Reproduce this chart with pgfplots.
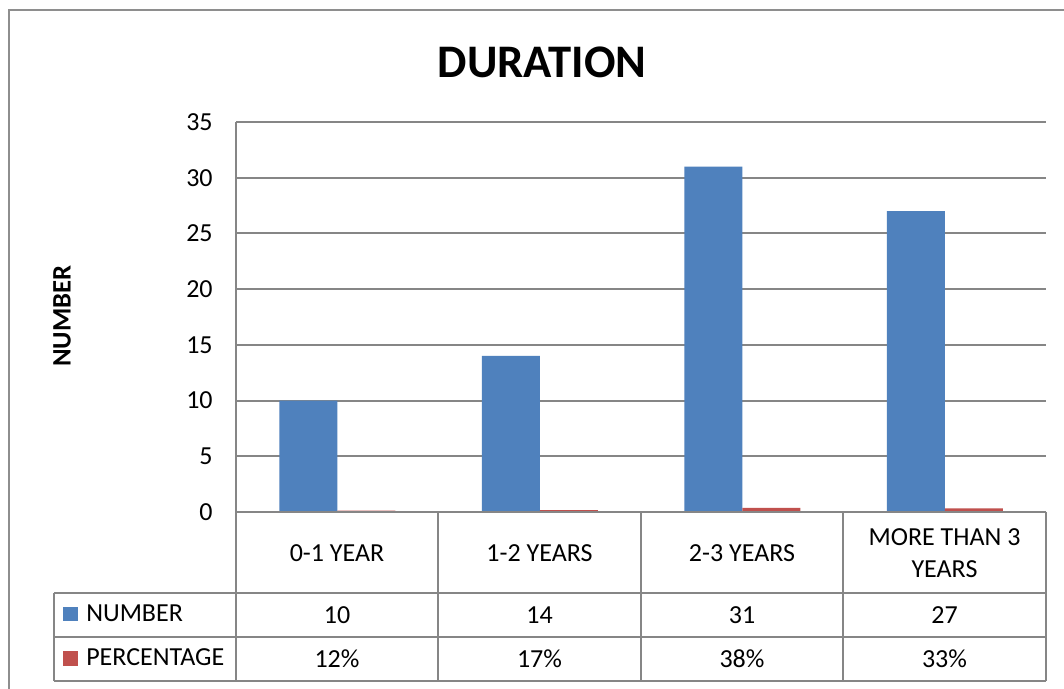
\documentclass[border=0pt]{standalone}
\usepackage{pgfplots}
\usepackage{pgfplotstable}
\pgfplotsset{compat=1.18}
\usepackage{fontspec}
\setmainfont{Carlito}
\definecolor{barblue}{HTML}{4F81BD}
\definecolor{barred}{HTML}{C0504D}
\definecolor{linegray}{HTML}{868686}
\definecolor{framegray}{HTML}{8E8E8E}
\pgfplotstableread{
x number pct
0 10 0.12
1 14 0.17
2 31 0.38
3 27 0.33
}\durdata
\begin{document}
\begin{tikzpicture}[x=0.75pt,y=0.75pt]
\useasboundingbox (0,0) rectangle (1064,689);
\begin{scope}
\clip (0,0) rectangle (1064,689);
\fill[white] (0,0) rectangle (1064,689);
% outer chart frame (cut at right and bottom)
\draw[framegray, line width=1.3pt] (9,-20) -- (9,679) -- (1100,679);
\begin{axis}[
  at={(177pt,132.75pt)}, anchor=south west,
  scale only axis, width=607.5pt, height=292.5pt,
  ybar=0pt, bar width=43.5pt,
  xmin=-0.5, xmax=3.5, ymin=0, ymax=35,
  ytick={0,5,...,35}, xtick=\empty,
  axis x line=none,
  axis y line*=left,
  y axis line style={linegray, line width=1.5pt, -},
  ymajorgrids, grid style={linegray, line width=1.5pt},
  major tick length=0pt,
  yticklabel style={font=\fontsize{19.5}{23}\selectfont, xshift=-14pt},
  /pgf/number format/assume math mode=true,
  clip=false,
]
\addplot[fill=barblue, draw=none] table[x=x, y=number] {\durdata};
\addplot[fill=barred, draw=none] table[x=x, y=pct] {\durdata};
\end{axis}
% data table lines
\begin{scope}[linegray, line width=1.5pt]
\draw (236,177) -- (1046,177);
\draw (54,96) -- (1046,96);
\draw (54,52) -- (1046,52);
\draw (54,7.5) -- (1046,7.5);
\draw (54,96) -- (54,7.5);
\draw (236,177) -- (236,7.5);
\draw (438,177) -- (438,7.5);
\draw (641,177) -- (641,7.5);
\draw (843,177) -- (843,7.5);
\draw (1046,177) -- (1046,7.5);
\end{scope}
\begin{scope}[every node/.style={font=\fontsize{19.5}{23}\selectfont, inner sep=0pt}]
\node at (337,136) {0-1 YEAR};
\node at (539.5,136) {1-2 YEARS};
\node at (742,136) {2-3 YEARS};
\node[align=center, font=\fontsize{19.5}{24}\selectfont] at (944.5,136) {MORE THAN 3\\YEARS};
\node at (337,74) {10};
\node at (539.5,74) {14};
\node at (742,74) {31};
\node at (944.5,74) {27};
\node at (337,30) {12\%};
\node at (539.5,30) {17\%};
\node at (742,30) {38\%};
\node at (944.5,30) {33\%};
\node[anchor=west] at (86,76) {NUMBER};
\node[anchor=west] at (86,32) {PERCENTAGE};
\end{scope}
\fill[barblue] (63,68) rectangle (78,82);
\fill[barred] (63,23) rectangle (78,38);
% titles
\node[font=\fontsize{35}{40}\bfseries] at (542,627) {DURATION};
\node[font=\fontsize{20}{24}\bfseries, rotate=90] at (62,373) {NUMBER};
\end{scope}
\end{tikzpicture}
\end{document}
